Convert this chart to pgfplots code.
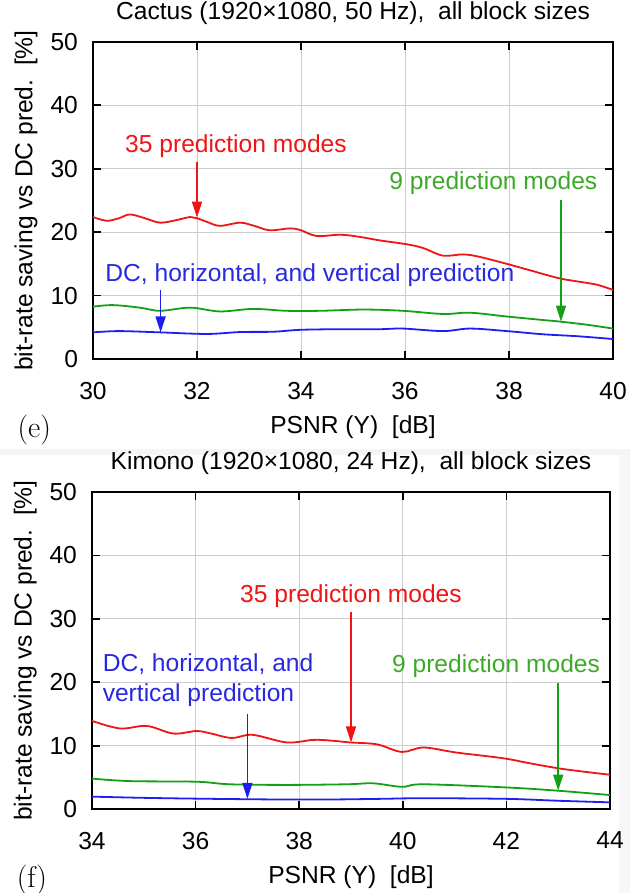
\documentclass[border=0pt]{standalone}
\usepackage{fontspec}
\setmainfont{Liberation Sans}
\newfontfamily\lmr{Latin Modern Roman}
\usepackage{pgfplots}
\pgfplotsset{compat=1.18}
\usetikzlibrary{arrows.meta}

\definecolor{cred}{RGB}{240,20,20}
\definecolor{cgreen}{RGB}{20,160,20}
\definecolor{cblue}{RGB}{30,30,240}
\definecolor{tgreen}{RGB}{60,170,40}
\definecolor{tblue}{RGB}{40,40,225}

\tikzset{
  lab/.style={font=\fontsize{12.3}{14}\selectfont, inner sep=0pt},
  arr/.style={-{Triangle[length=8pt,width=5pt]}, line width=0.75pt},
}

\pgfplotsset{
  panel/.style={
    scale only axis, height=158.5pt,
    ymin=0, ymax=50, ytick={0,10,...,50},
    grid=major, major grid style={gray!40, line width=0.5pt},
    axis line style={line width=0.9pt},
    tick style={black, line width=0.9pt}, major tick length=4pt,
    tick align=inside,
    /pgf/number format/assume math mode=true,
    tick label style={font=\fontsize{12.3}{14}\selectfont},
    xticklabel style={yshift=-8pt},
    yticklabel style={xshift=-4pt},
    label style={font=\fontsize{12.3}{14}\selectfont},
    title style={font=\fontsize{12.3}{14}\selectfont, yshift=-1pt},
    xlabel={PSNR (Y)\ \ [dB]},
    ylabel={bit-rate saving vs DC pred.\ \ [\%]},
    xlabel style={at={(axis description cs:0.5,-0.2145)}, anchor=center},
    ylabel style={at={(axis description cs:-0.129,0.5)}, anchor=center},
    clip mode=individual,
    every axis plot/.append style={line width=0.9pt, smooth, tension=0.55, no markers},
  }
}

\begin{document}
\begin{tikzpicture}
\fill[gray!8] (-46pt,177pt) rectangle (269pt,180pt);
\fill[gray!6] (263.5pt,-42pt) rectangle (269pt,177pt);

% (f) Kimono
\begin{axis}[panel, at={(0,0)}, width=259pt,
  xmin=34, xmax=44, xtick={34,36,...,44},
  title={Kimono (1920×1080, 24 Hz),\ \ all block sizes}]
  \addplot[cred] coordinates {
    (34.0,13.9) (34.54,12.7) (35.06,13.1) (35.57,11.9) (36.02,12.3)
    (36.3,11.9) (36.7,11.2) (37.1,11.7) (37.76,10.5) (38.27,10.9)
    (38.6,10.8) (38.98,10.5) (39.5,10.2) (39.98,9.0) (40.4,9.7)
    (41.04,8.9) (41.94,8.0) (42.46,7.2) (43.1,6.3) (44.0,5.4)};
  \addplot[cgreen] coordinates {
    (34.0,4.8) (34.73,4.4) (36.02,4.3) (36.66,3.9) (37.76,3.8)
    (38.92,3.9) (39.43,4.05) (39.98,3.5) (40.4,3.9) (42.0,3.4)
    (42.97,2.9) (44.0,2.2)};
  \addplot[cblue] coordinates {
    (34.0,1.95) (35.06,1.75) (36.34,1.6) (37.63,1.5) (38.6,1.5)
    (39.56,1.6) (40.4,1.7) (42.0,1.6) (43.0,1.3) (44.0,1.05)};
  \node[lab, text=cred] at (axis cs:39.0,33.6) {35 prediction modes};
  \draw[arr, cred] (axis cs:39,31.1) -- (axis cs:39,10.5);
  \node[lab, text=tblue, anchor=west, align=left] at (axis cs:34.2,20.35)
    {DC, horizontal, and\\[1pt]vertical prediction};
  \draw[arr, cblue] (axis cs:37,15.0) -- (axis cs:37,1.6);
  \node[lab, text=tgreen] at (axis cs:41.8,22.6) {9 prediction modes};
  \draw[arr, cgreen] (axis cs:43,19.9) -- (axis cs:43,2.9);
  \node[font=\lmr\fontsize{15}{17}\selectfont] at (axis description cs:-0.116,-0.224) {(f)};
\end{axis}

% (e) Cactus
\begin{axis}[panel, at={(0.5pt,225pt)}, width=260pt,
  xmin=30, xmax=40, xtick={30,32,...,40},
  title={Cactus (1920×1080, 50 Hz),\ \ all block sizes}]
  \addplot[cred] coordinates {
    (30.0,22.4) (30.26,21.8) (30.5,22.2) (30.71,22.8) (31.0,22.2)
    (31.29,21.5) (31.6,21.9) (31.87,22.4) (32.0,22.2) (32.2,21.6)
    (32.44,21.0) (32.83,21.5) (33.1,21.0) (33.4,20.3) (33.79,20.6)
    (34.0,20.3) (34.3,19.4) (34.75,19.6) (35.1,19.3) (35.52,18.7)
    (36.03,18.1) (36.35,17.5) (36.73,16.3) (37.12,16.5) (37.44,16.1)
    (37.96,15.0) (38.4,14.0) (38.79,13.1) (39.04,12.6) (39.42,12.1)
    (39.7,11.7) (40.0,10.9)};
  \addplot[cgreen] coordinates {
    (30.0,8.25) (30.38,8.5) (30.9,8.1) (31.29,7.6) (31.87,8.1)
    (32.44,7.5) (33.08,7.9) (33.72,7.6) (34.37,7.6) (35.2,7.8)
    (35.96,7.6) (36.73,7.1) (37.25,7.3) (37.96,6.7) (38.65,6.15)
    (38.98,5.9) (39.5,5.4) (40.0,4.8)};
  \addplot[cblue] coordinates {
    (30.0,4.2) (30.5,4.4) (31.29,4.2) (32.19,3.95) (32.83,4.25)
    (33.47,4.3) (33.98,4.6) (34.75,4.7) (35.52,4.7) (35.96,4.8)
    (36.73,4.4) (37.25,4.8) (37.96,4.4) (38.65,3.9) (39.3,3.6)
    (40.0,3.15)};
  \node[lab, text=cred] at (axis cs:32.75,33.6) {35 prediction modes};
  \draw[arr, cred] (axis cs:32,31.1) -- (axis cs:32,22.3);
  \node[lab, text=tblue] at (axis cs:34.17,13.2) {DC, horizontal, and vertical prediction};
  \draw[arr, cblue] (axis cs:31.3,10.9) -- (axis cs:31.3,4.2);
  \node[lab, text=tgreen] at (axis cs:37.7,27.7) {9 prediction modes};
  \draw[arr, cgreen] (axis cs:39,25.1) -- (axis cs:39,5.9);
  \node[font=\lmr\fontsize{15}{17}\selectfont] at (axis description cs:-0.113,-0.224) {(e)};
\end{axis}

\pgfresetboundingbox
\path (-46pt,-42pt) rectangle (269pt,404.5pt);
\end{tikzpicture}
\end{document}
